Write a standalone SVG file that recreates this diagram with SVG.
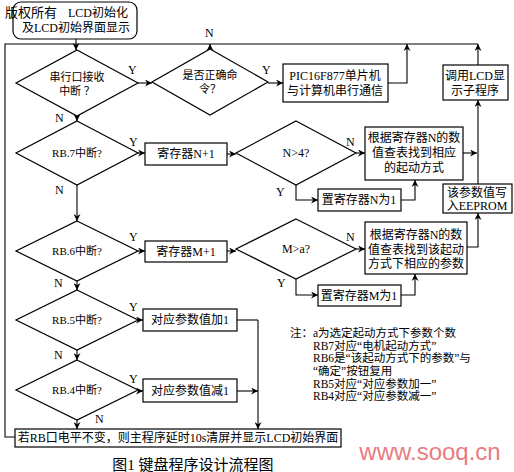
<svg xmlns="http://www.w3.org/2000/svg" width="514" height="472" viewBox="0 0 514 472">
<defs>
<marker id="ar" viewBox="0 0 8 8" refX="8" refY="4" markerWidth="7" markerHeight="7" orient="auto" markerUnits="userSpaceOnUse">
<path d="M0,0 L8,4 L0,8 L2.5,4 Z" fill="#000"/>
</marker>
<style>
.t{font-family:"Liberation Serif","Noto Sans CJK SC",serif;font-size:12px;fill:#000;text-anchor:middle}
.s{font-size:11px}
.l{font-family:"Liberation Serif","Noto Sans CJK SC",serif;font-size:12px;fill:#000}
.n{font-family:"Liberation Serif","Noto Sans CJK SC",serif;font-size:11.5px;fill:#000}
.b{fill:#fff;stroke:#000;stroke-width:1.2}
.c{fill:none;stroke:#000;stroke-width:1.1}
.a{fill:none;stroke:#000;stroke-width:1.1;marker-end:url(#ar)}
</style>
</defs>
<rect width="514" height="472" fill="#fff"/>

<g id="connectors">
<path class="c" d="M15,437 H5 V44 H478"/>
<path class="a" d="M76,39 V50"/>
<path class="a" d="M388,83 H407 V44"/>
<path class="a" d="M478,65 V44"/>
<path class="a" d="M210,50 V44"/>
<path class="a" d="M138,83 H152"/>
<path class="a" d="M268,83 H283"/>
<path class="a" d="M77,116 V121"/>
<path class="a" d="M138,153 H145"/>
<path class="a" d="M227,154 H236"/>
<path class="a" d="M356,153 H365"/>
<path class="a" d="M296,185 V200 H318"/>
<path class="a" d="M401,200 H415 V180"/>
<path class="a" d="M463,153 H477"/>
<path class="a" d="M478,184 V100"/>
<path class="a" d="M77,185 V221"/>
<path class="a" d="M138,251 H145"/>
<path class="a" d="M227,251 H236"/>
<path class="a" d="M356,249 H365"/>
<path class="a" d="M296,279 V295 H318"/>
<path class="a" d="M401,295 H415 V274"/>
<path class="a" d="M467,247 H478 V213"/>
<path class="a" d="M77,281 V290"/>
<path class="a" d="M138,320 H143"/>
<path class="c" d="M237,320 H258"/>
<path class="a" d="M258,320 V429"/>
<path class="a" d="M77,350 V360"/>
<path class="a" d="M138,391 H143"/>
<path class="a" d="M237,391 H258"/>
<path class="a" d="M77,420 V429"/>
</g>

<g id="labels">
<text class="l" x="205" y="37">N</text>
<text class="l" x="128" y="74">Y</text>
<text class="l" x="262" y="74">Y</text>
<text class="l" x="55" y="122">N</text>
<text class="l" x="129" y="146">Y</text>
<text class="l" x="55" y="194">N</text>
<text class="l" x="346" y="146">N</text>
<text class="l" x="276" y="196">Y</text>
<text class="l" x="129" y="241">Y</text>
<text class="l" x="54" y="287">N</text>
<text class="l" x="346" y="241">N</text>
<text class="l" x="277" y="287">Y</text>
<text class="l" x="129" y="311">Y</text>
<text class="l" x="54" y="359">N</text>
<text class="l" x="129" y="383">Y</text>
<text class="l" x="95" y="423">N</text>
</g>

<g id="start">
<rect class="b" x="13" y="2" width="124" height="37" rx="8"/>
<text class="l" x="5" y="17" style="font-size:13px">版权所有</text>
<text class="t" x="128" y="17" style="text-anchor:end">LCD初始化</text>
<text class="t" x="76" y="32">及LCD初始界面显示</text>
</g>

<g id="d1">
<polygon class="b" points="77,50 138,83 77,116 16,83"/>
<text class="t s" x="77" y="81">串行口接收</text>
<text class="t s" x="77" y="95">中断 ？</text>
</g>

<g id="d2">
<polygon class="b" points="210,49 268,82 210,115 152,82"/>
<text class="t s" x="210" y="79">是否正确命</text>
<text class="t s" x="210" y="93">令？</text>
</g>

<g id="pic">
<rect class="b" x="283" y="64" width="105" height="38"/>
<text class="t" x="335" y="80">PIC16F877单片机</text>
<text class="t" x="335" y="95">与计算机串行通信</text>
</g>

<g id="lcd">
<rect class="b" x="443" y="65" width="65" height="35"/>
<text class="t" x="475" y="80">调用LCD显</text>
<text class="t" x="475" y="95">示子程序</text>
</g>

<g id="rb7">
<polygon class="b" points="77,121 138,153 77,185 16,153"/>
<text class="t s" x="77" y="157">RB.7中断?</text>
</g>

<g id="n1">
<rect class="b" x="145" y="143" width="82" height="22"/>
<text class="t" x="186" y="158">寄存器N+1</text>
</g>

<g id="n4">
<polygon class="b" points="296,121 356,153 296,185 236,153"/>
<text class="t" x="296" y="157">N&gt;4?</text>
</g>

<g id="nset">
<rect class="b" x="318" y="189" width="83" height="22"/>
<text class="t" x="359" y="204">置寄存器N为1</text>
</g>

<g id="nmode">
<rect class="b" x="365" y="127" width="98" height="53"/>
<text class="t" x="414" y="142">根据寄存器N的数</text>
<text class="t" x="414" y="157">值查表找到相应</text>
<text class="t" x="414" y="172">的起动方式</text>
</g>

<g id="eeprom">
<rect class="b" x="443" y="184" width="69" height="29"/>
<text class="t" x="477" y="197">该参数值写</text>
<text class="t" x="477" y="210">入EEPROM</text>
</g>

<g id="rb6">
<polygon class="b" points="77,221 138,251 77,281 16,251"/>
<text class="t s" x="77" y="255">RB.6中断?</text>
</g>

<g id="m1">
<rect class="b" x="145" y="241" width="82" height="21"/>
<text class="t" x="186" y="256">寄存器M+1</text>
</g>

<g id="ma">
<polygon class="b" points="296,219 356,249 296,279 236,249"/>
<text class="t" x="296" y="253">M&gt;a?</text>
</g>

<g id="mset">
<rect class="b" x="318" y="285" width="83" height="21"/>
<text class="t" x="359" y="300">置寄存器M为1</text>
</g>

<g id="mparam">
<rect class="b" x="365" y="222" width="102" height="52"/>
<text class="t" x="416" y="239">根据寄存器N的数</text>
<text class="t" x="416" y="254">值查表找到该起动</text>
<text class="t" x="416" y="268">方式下相应的参数</text>
</g>

<g id="rb5">
<polygon class="b" points="77,290 138,320 77,350 16,320"/>
<text class="t s" x="77" y="324">RB.5中断?</text>
</g>

<g id="inc">
<rect class="b" x="143" y="309" width="94" height="22"/>
<text class="t" x="190" y="324">对应参数值加1</text>
</g>

<g id="rb4">
<polygon class="b" points="77,360 138,390 77,420 16,390"/>
<text class="t s" x="77" y="394">RB.4中断?</text>
</g>

<g id="dec">
<rect class="b" x="143" y="379" width="94" height="23"/>
<text class="t" x="190" y="395">对应参数值减1</text>
</g>

<g id="end">
<rect class="b" x="15" y="429" width="326" height="18"/>
<text class="t" x="178" y="442">若RB口电平不变，则主程序延时10s清屏并显示LCD初始界面</text>
</g>

<g id="notes">
<text class="n" x="290" y="337">注：a为选定起动方式下参数个数</text>
<text class="n" x="313" y="350">RB7对应“电机起动方式”</text>
<text class="n" x="313" y="362">RB6是“该起动方式下的参数”与</text>
<text class="n" x="313" y="375">“确定”按钮复用</text>
<text class="n" x="313" y="388">RB5对应“对应参数加一”</text>
<text class="n" x="313" y="400">RB4对应“对应参数减一”</text>
</g>

<text class="t" x="193" y="470" style="font-size:15px">图1  键盘程序设计流程图</text>
<text x="430" y="460" style="font-family:'Liberation Sans',sans-serif;font-size:24px;fill:#ea7b80;text-anchor:middle">www.sooq.cn</text>
</svg>
